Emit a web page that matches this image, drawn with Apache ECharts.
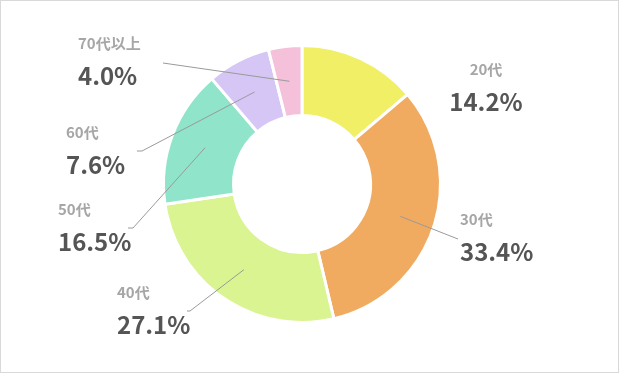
<!DOCTYPE html>
<html>
<head>
<meta charset="utf-8">
<script src="https://cdn.jsdelivr.net/npm/echarts@6/dist/echarts.min.js"></script>
<style>
  html, body { margin: 0; padding: 0; background: #fff; }
  #frame { width: 619px; height: 373px; box-sizing: border-box; border: 1px solid #d9d9d9; position: relative; }
  #chart { position: absolute; left: -1px; top: -1px; width: 619px; height: 373px; }
</style>
</head>
<body>
<div id="frame"><div id="chart"></div></div>
<script>
// ---- data ----
const categories = ['20代', '30代', '40代', '50代', '60代', '70代以上'];
const values = [14.2, 33.4, 27.1, 16.5, 7.6, 4.0];
const colors = ['#f0ef66', '#f0ab60', '#d9f490', '#8fe4ca', '#d6c6f5', '#f4c0da'];

// ---- label layout (positions of label blocks, leader line end points) ----
const labelAnchors = [
  [486, 56, 'center'],
  [460, 206, 'left'],
  [117, 279, 'left'],
  [58, 196, 'left'],
  [66, 119, 'left'],
  [78, 30, 'left']
];
const lineEnds = [
  null,
  [[458, 239]],
  [[190, 311], [187, 311]],
  [[133, 228], [128, 228]],
  [[142, 151], [137, 151]],
  [[163, 63]]
];
const CX = 302, CY = 184, R_IN = 68.5, R_OUT = 138.5, R_MID = 103.5;

const chart = echarts.init(document.getElementById('chart'), null, { renderer: 'canvas' });

const pieData = categories.map((c, i) => ({
  name: c,
  value: values[i],
  itemStyle: { color: colors[i] }
}));
const labelData = categories.map((c, i) => ({
  name: c,
  value: values[i],
  labelLine: { show: lineEnds[i] !== null }
}));

const common = {
  type: 'pie',
  center: [CX, CY],
  radius: [R_IN, R_OUT],
  startAngle: 90,
  clockwise: true,
  avoidLabelOverlap: false
};

chart.setOption({
  backgroundColor: 'transparent',
  animation: false,
  series: [
    Object.assign({}, common, {
      z: 2,
      data: pieData,
      itemStyle: { borderColor: '#ffffff', borderWidth: 3 },
      label: { show: false },
      labelLine: { show: false },
      emphasis: { disabled: true }
    }),
    Object.assign({}, common, {
      z: 10,
      data: labelData,
      silent: true,
      itemStyle: { color: 'rgba(0,0,0,0)', borderWidth: 0 },
      emphasis: { disabled: true },
      label: {
        show: true,
        position: 'outside',
        formatter: p => '{n|' + p.name + '}\n{v|' + values[p.dataIndex].toFixed(1) + '%}',
        rich: {
          n: { fontFamily: '"Noto Sans CJK JP"', fontWeight: 'bold', fontSize: 15, color: '#a6a6a6', lineHeight: 26 },
          v: { fontFamily: '"Noto Sans CJK JP"', fontWeight: 'bold', fontSize: 24, color: '#555555', lineHeight: 40 }
        }
      },
      labelLine: {
        show: true,
        lineStyle: { color: '#9a9a9a', width: 1 }
      },
      labelLayout: function (params) {
        const i = params.dataIndex;
        const a = labelAnchors[i];
        const res = { x: a[0], y: a[1], align: a[2], verticalAlign: 'top' };
        const ends = lineEnds[i];
        if (ends && params.labelLinePoints) {
          const p0 = params.labelLinePoints[0];
          let dx = p0[0] - CX, dy = p0[1] - CY;
          const len = Math.sqrt(dx * dx + dy * dy) || 1;
          dx /= len; dy /= len;
          const start = [CX + dx * R_MID, CY + dy * R_MID];
          const pts = [start].concat(ends);
          if (pts.length === 2) pts.splice(1, 0, [(start[0] + ends[0][0]) / 2, (start[1] + ends[0][1]) / 2]);
          res.labelLinePoints = pts;
        }
        return res;
      }
    })
  ]
});
</script>
</body>
</html>
